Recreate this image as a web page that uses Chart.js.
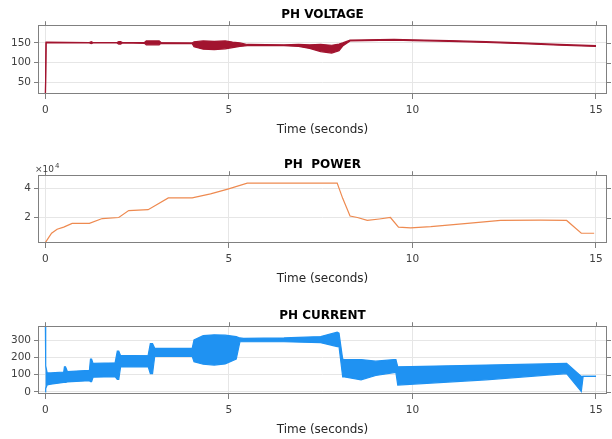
<!DOCTYPE html>
<html lang="en">
<head>
<meta charset="UTF-8">
<title>PH Voltage / Power / Current</title>
<script src="https://cdn.jsdelivr.net/npm/chart.js@4"></script>
<style>
  body { margin: 0; background: #fff; width: 612px; height: 439px; overflow: hidden; position: relative; }
  .panel { position: absolute; left: 0; width: 612px; }
</style>
</head>
<body>
<div class="panel" style="top:0;height:140px"><canvas id="voltChart"></canvas></div>
<div class="panel" style="top:150px;height:139px"><canvas id="powerChart"></canvas></div>
<div class="panel" style="top:301px;height:139px"><canvas id="currChart"></canvas></div>
<script>
// ---- data ----
const xTicks = [0, 5, 10, 15];

// voltage: upper / lower edge of the trace (noisy parts are a band)
const voltTime  = [0, 0.02, 1.2, 1.25, 1.3, 1.95, 2.0, 2.05, 2.1, 2.7, 2.75, 3.1, 3.15, 4.0, 4.05, 4.3, 4.6, 4.9, 5.1, 5.3, 5.5, 6.5, 6.9, 7.2, 7.5, 7.8, 8.0, 8.1, 8.3, 9.5, 10, 11, 12, 13, 14, 15];
const voltUpper = [0, 152, 151, 153, 151, 151, 153, 153, 151, 151, 155, 155, 151, 150, 153, 155, 154, 155, 152, 150, 146, 145, 146, 145, 146, 144, 147, 150, 157, 159, 158, 156, 153, 150, 146, 143];
const voltLower = [0, 150, 150, 148, 150, 150, 147, 147, 150, 149, 145, 145, 149, 148, 140, 134, 133, 135, 138, 141, 143, 143, 141, 136, 128, 124, 130, 142, 155, 157, 156, 154, 151, 148, 144, 141];
const voltTicks = [50, 100, 150];

// power (W)
const powerTime  = [0, 0.08, 0.17, 0.32, 0.5, 0.73, 1.2, 1.55, 2.0, 2.27, 2.8, 3.35, 4.0, 4.5, 4.97, 5.5, 7.95, 8.1, 8.3, 8.5, 8.77, 9.1, 9.4, 9.62, 9.95, 10.5, 11.5, 12.4, 13.5, 14.2, 14.6, 14.95];
const powerVals  = [3000, 6000, 9300, 12000, 13500, 16000, 16000, 19300, 20000, 24700, 25300, 33300, 33300, 36000, 39300, 43300, 43300, 33000, 21000, 20000, 18000, 19000, 20000, 13500, 13000, 13800, 16000, 18000, 18200, 18000, 9300, 9300];
const powerTicks = [20000, 40000];

// current (A): upper / lower edge of the oscillating band
const currTime  = [0, 0.01, 0.05, 0.15, 0.5, 0.52, 0.55, 0.6, 1.2, 1.23, 1.26, 1.3, 1.9, 1.96, 2.0, 2.05, 2.8, 2.86, 2.92, 2.98, 4.0, 4.05, 4.3, 4.6, 4.9, 5.2, 5.3, 5.4, 6.5, 7.5, 7.95, 8.0, 8.1, 8.15, 8.6, 9.0, 9.5, 9.55, 9.6, 12, 14.2, 14.6, 14.65, 15];
const currUpper = [400, 150, 110, 110, 115, 145, 145, 118, 125, 190, 190, 165, 168, 236, 236, 210, 212, 280, 280, 252, 252, 300, 325, 330, 328, 320, 312, 310, 312, 320, 345, 340, 190, 187, 187, 178, 187, 187, 145, 155, 165, 90, 90, 90];
const currLower = [0, 20, 40, 45, 55, 55, 55, 58, 65, 60, 60, 85, 88, 73, 73, 144, 146, 106, 106, 206, 206, 175, 160, 155, 162, 190, 290, 290, 290, 285, 262, 262, 87, 87, 70, 95, 112, 112, 40, 70, 106, 2, 90, 90];
const currTicks = [0, 100, 200, 300];

const pts = (xs, ys) => xs.map((x, i) => ({x: x, y: ys[i]}));
const FONT = '"DejaVu Sans", Verdana, sans-serif';

// box round the axes, plus the small outside ticks on top and right
const boxPlugin = {
    id: 'box',
    afterDraw(chart, args, opts) {
        const {ctx, chartArea: a, scales} = chart;
        ctx.save();
        ctx.strokeStyle = '#808080';
        ctx.lineWidth = 1;
        ctx.strokeRect(Math.round(a.left) + 0.5, Math.round(a.top) + 0.5, Math.round(a.width) - 1, Math.round(a.height) - 1);
        ctx.beginPath();
        xTicks.forEach(v => {
            const px = Math.round(scales.x.getPixelForValue(v)) + 0.5;
            ctx.moveTo(px, a.top); ctx.lineTo(px, a.top - 4);
        });
        scales.y.ticks.forEach(t => {
            const py = Math.round(scales.y.getPixelForValue(t.value)) + 0.5;
            ctx.moveTo(a.right, py); ctx.lineTo(a.right + 4, py);
        });
        ctx.stroke();
        if (opts.exponent) {
            ctx.fillStyle = '#404040';
            ctx.font = '9px ' + FONT;
            ctx.textBaseline = 'bottom';
            ctx.fillText('\u00d710', a.left - 3, a.top - 1);
            ctx.font = '7px ' + FONT;
            ctx.fillText('4', a.left + 17, a.top - 6);
        }
        ctx.restore();
    }
};

function makeChart(id, title, datasets, yMin, yMax, yTicks, fmt, exponent) {
    return new Chart(document.getElementById(id), {
        type: 'line',
        data: { datasets: datasets },
        options: {
            responsive: true,
            maintainAspectRatio: false,
            animation: false,
            layout: { padding: { left: 0, right: 5, top: 0, bottom: 0 } },
            elements: { point: { radius: 0 }, line: { tension: 0 } },
            plugins: {
                legend: { display: false },
                tooltip: { enabled: false },
                title: {
                    display: true, fullSize: false, text: title, color: '#000',
                    font: { family: FONT, size: 12, weight: 'bold', lineHeight: 1.1 },
                    padding: { top: 8, bottom: 4 }
                },
                box: { exponent: exponent }
            },
            scales: {
                x: {
                    type: 'linear', min: -0.2, max: 15.3,
                    afterBuildTicks: s => { s.ticks = xTicks.map(v => ({value: v})); },
                    afterFit: s => { s.height = 46; },
                    border: { display: false },
                    grid: { color: '#e6e6e6', tickColor: '#808080', tickLength: 5 },
                    ticks: { color: '#404040', padding: 5, font: { family: FONT, size: 10.5 } },
                    title: {
                        display: true, text: 'Time (seconds)', color: '#262626',
                        font: { family: FONT, size: 12 },
                        padding: { top: 2, bottom: 3 }
                    }
                },
                y: {
                    min: yMin, max: yMax,
                    afterBuildTicks: s => { s.ticks = yTicks.map(v => ({value: v})); },
                    afterFit: s => { s.width = 38; },
                    border: { display: false },
                    grid: { color: '#e6e6e6', tickColor: '#808080', tickLength: 4 },
                    ticks: { color: '#404040', padding: 3, callback: fmt, font: { family: FONT, size: 10.5 } }
                }
            }
        },
        plugins: [boxPlugin]
    });
}

const voltColor = '#a2142f';
const powerColor = '#ee8a50';
const currColor = '#1f92f2';

makeChart('voltChart', 'PH VOLTAGE', [
    { data: pts(voltTime, voltUpper), borderColor: voltColor, borderWidth: 1.2, fill: false },
    { data: pts(voltTime, voltLower), borderColor: voltColor, borderWidth: 1.2, backgroundColor: voltColor, fill: '-1' }
], 20, 195, voltTicks, v => v, false);

makeChart('powerChart', 'PH  POWER', [
    { data: pts(powerTime, powerVals), borderColor: powerColor, borderWidth: 1.2, fill: false }
], 2700, 48700, powerTicks, v => v / 10000, true);

makeChart('currChart', 'PH CURRENT', [
    { data: pts(currTime, currUpper), borderColor: currColor, borderWidth: 1.2, fill: false },
    { data: pts(currTime, currLower), borderColor: currColor, borderWidth: 1.2, backgroundColor: currColor, fill: '-1' }
], -12, 380, currTicks, v => v, false);
</script>
</body>
</html>
